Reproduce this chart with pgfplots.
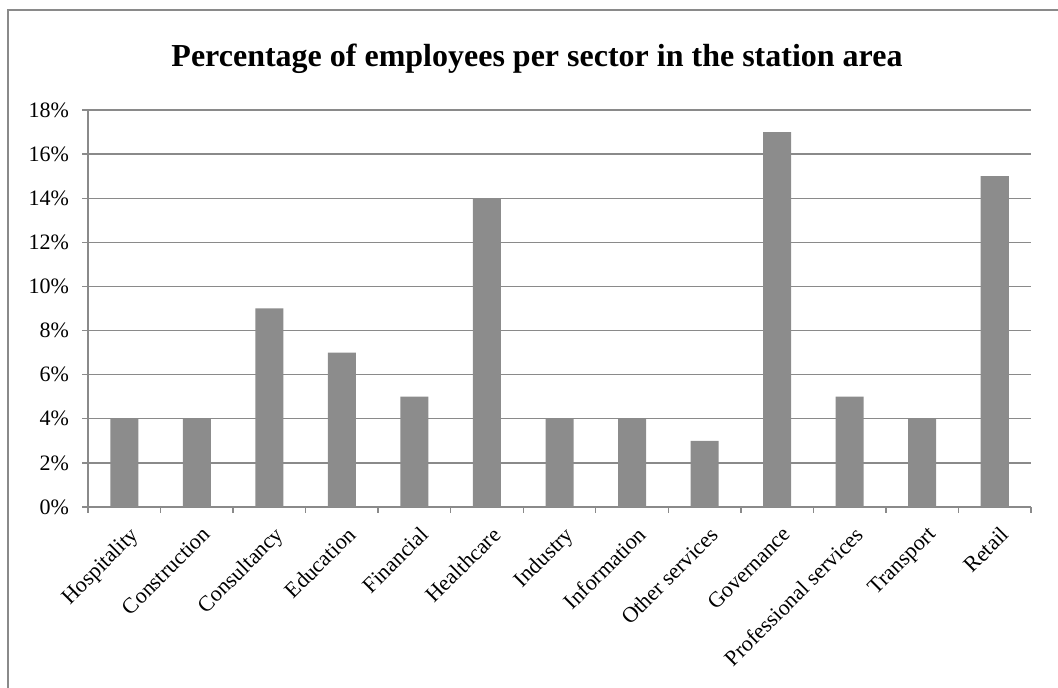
\documentclass[border=0pt]{standalone}
\usepackage{pgfplots}
\pgfplotsset{compat=1.18}
\usepackage{fontspec}
\setmainfont{Liberation Serif}
\definecolor{barc}{RGB}{140,140,140}
\definecolor{gridc}{RGB}{138,138,138}
\begin{document}
\begin{tikzpicture}
\useasboundingbox (0,0) rectangle (529pt,344pt);
\draw[gridc, line width=0.7pt] (4pt,-2pt) -- (4pt,339pt) -- (531pt,339pt);
\node[font=\bfseries\fontsize{16}{19}\selectfont] at (268.5pt,314.5pt) {Percentage of employees per sector in the station area};
\begin{axis}[
  at={(44pt,90.5pt)}, anchor=south west,
  scale only axis, width=471.5pt, height=198.5pt,
  xmin=-0.5, xmax=12.5, ymin=0, ymax=18,
  axis x line*=bottom, axis y line*=left,
  axis line style={gridc, line width=0.7pt, -},
  ytick={0,2,...,18},
  yticklabels={0\%,2\%,4\%,6\%,8\%,10\%,12\%,14\%,16\%,18\%},
  ymajorgrids, grid style={gridc, line width=0.7pt},
  xtick={-0.5,0.5,...,12.5}, xticklabels={},
  extra x ticks={0,1,...,12},
  extra x tick labels={Hospitality,Construction,Consultancy,Education,Financial,Healthcare,Industry,Information,Other services,Governance,Professional services,Transport,Retail},
  extra x tick style={major tick length=0pt, grid=none},
  xticklabel style={rotate=45, anchor=north east, xshift=-1.5pt, yshift=-4.5pt, font=\fontsize{11}{13}\selectfont},
  yticklabel style={xshift=-3pt, font=\fontsize{11}{13}\selectfont},
  tick align=outside, major tick length=3pt,
  tick style={gridc, line width=0.7pt},
  ybar, bar width=14pt,
]
\addplot[fill=barc, draw=none] coordinates {
(0,4) (1,4) (2,9) (3,7) (4,5) (5,14) (6,4) (7,4) (8,3) (9,17) (10,5) (11,4) (12,15)};
\end{axis}
\end{tikzpicture}
\end{document}
